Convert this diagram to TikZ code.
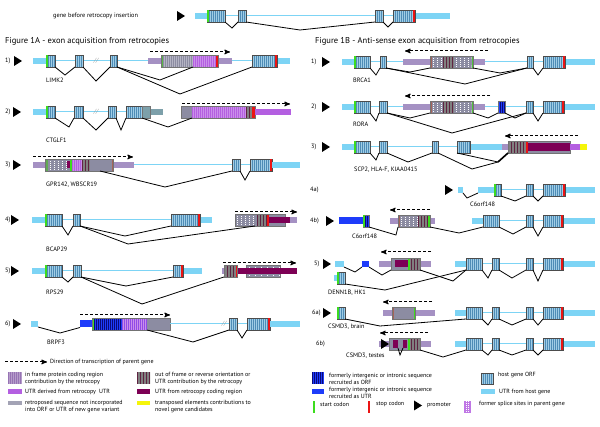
\documentclass[tikz,border=0pt]{standalone}
\usepackage{fontspec}
\setmainfont{PT Sans}
\usetikzlibrary{arrows,positioning}

\definecolor{hostc}{RGB}{78,140,182}
\definecolor{hstripe}{RGB}{160,205,230}
\definecolor{hutr}{RGB}{125,212,245}
\definecolor{lav}{RGB}{165,145,195}
\definecolor{rgray}{RGB}{140,140,162}
\definecolor{rpurp}{RGB}{180,95,225}
\definecolor{ifpurp}{RGB}{150,115,180}
\definecolor{dstripe}{RGB}{95,35,65}
\definecolor{mutr}{RGB}{125,0,85}
\definecolor{dblue}{RGB}{10,10,120}
\definecolor{bblue}{RGB}{30,60,250}
\definecolor{tyel}{RGB}{245,245,10}
\definecolor{tealg}{RGB}{125,160,170}
\definecolor{brn}{RGB}{165,100,90}
\definecolor{startc}{RGB}{60,220,30}
\definecolor{stopc}{RGB}{235,20,20}

% host gene pieces
\newcommand\hexo[4]{\node[hexon,minimum width={(#3-#2)*1pt}] (#1) at ({(#2+#3)/2},#4) {};}
\newcommand\hub[3]{\fill[hutr] (#1,#3-3) rectangle (#2,#3+3);}
\newcommand\intr[3]{\draw[intron] (#1,#3) -- (#2,#3);}
\newcommand\gst[1]{\fill[startc] ([xshift=0.4pt]#1.south west) rectangle ([xshift=1.8pt]#1.north west);}
\newcommand\rsp[1]{\fill[stopc] ([xshift=-1.8pt]#1.south east) rectangle ([xshift=-0.4pt]#1.north east);}
\newcommand\prom[2]{\fill (#1,#2-5) -- (#1+8,#2) -- (#1,#2+5) -- cycle;}
\newcommand\brk[3]{\node[text=gray!80,font=\fontsize{6}{6}\selectfont\itshape] (#1) at (#2,#3) {//};}
% retrocopy pieces
\newcommand\band[4]{\fill[#4] (#1,#3-3) rectangle (#2,#3+3);}
\newcommand\blk[4]{\fill[#4] (#1,#3-6) rectangle (#2,#3+6);}
\newcommand\strp[6]{\begin{scope}
  \clip (#1,#3-6) rectangle (#2,#3+6);
  \fill[#4] (#1,#3-6) rectangle (#2,#3+6);
  \foreach \k in {0,...,40} \draw[#5,line width=0.5pt] (#1+#6/2+\k*#6,#3-6) -- ++(0,12);
\end{scope}}
\newcommand\rbox[4]{\node[rbx,minimum width={(#3-#2)*1pt}] (#1) at ({(#2+#3)/2},#4) {};}

\begin{document}
\begin{tikzpicture}[x=1pt,y=-1pt,>=stealth',font=\fontsize{6.3}{7.3}\selectfont]
    \tikzstyle{hexon}=[draw=black!70,line width=0.4pt,fill=hostc,inner sep=0pt,outer sep=0pt,minimum height=12pt,
        path picture={\foreach \k in {0,...,20} \draw[hstripe,line width=0.35pt] ([xshift=\k*2pt+1.5pt]path picture bounding box.south west) -- ([xshift=\k*2pt+1.5pt]path picture bounding box.north west);}]
    \tikzstyle{rbx}=[draw=black!55,line width=0.4pt,inner sep=0pt,outer sep=0pt,minimum height=12pt]
    \tikzstyle{ubar}=[inner sep=0pt,outer sep=0pt,minimum height=6pt]
    \tikzstyle{splice}=[black,line width=0.8pt]
    \tikzstyle{intron}=[hutr,line width=1pt]
    \tikzstyle{dir}=[->,dash pattern=on 3pt off 2pt,line width=1pt]
    \tikzstyle{lbl}=[anchor=west,inner sep=0pt]
    \tikzstyle{ttl}=[anchor=west,inner sep=0pt,font=\fontsize{8.5}{10}\selectfont]

    \useasboundingbox (0,0) rectangle (600,427);

    % gene before insertion
    \node[lbl] (gtitle) at (53,16) {gene before retrocopy insertion};
    \prom{177}{16}
    \intr{207}{415}{16}
    \hub{195}{207}{16} \hub{415}{450}{16}
    \hexo{t1}{207}{225}{16} \hexo{t2}{238}{246}{16} \hexo{t3}{375}{383}{16} \hexo{t4}{393}{415}{16}
    \gst{t1} \rsp{t4}
    \draw[splice] (t1.south east) -- (232,28) -- (t2.south west);
    \draw[splice] (t2.south east) -- (300,30) -- (t3.south west);
    \draw[splice] (t3.south east) -- (388,27) -- (t4.south west);

    \node[ttl] (titA) at (5,41) {Figure 1A - exon acquisition from retrocopies};
    \node[ttl] (titB) at (315,41) {Figure 1B - Anti-sense exon acquisition from retrocopies};

    %%% Figure 1A
    % 1) LIMK2
    \node[lbl] (nA1) at (5,61) {1)};
    \prom{14}{61}
    \intr{46}{252}{61}
    \hub{33}{46}{61} \hub{277}{290}{61}
    \band{148}{232}{61}{lav}
    \strp{161}{193}{61}{rgray}{white!35!rgray}{2}
    \blk{161}{162.5}{61}{startc!60!gray}
    \strp{193}{216}{61}{rpurp}{white!30!rpurp}{2}
    \blk{216}{218}{61}{stopc}
    \rbox{r1}{161}{218}{61}
    \hexo{a1a}{46}{55}{61} \hexo{a1b}{75}{83}{61} \hexo{a1c}{110}{117}{61} \hexo{a1d}{252}{277}{61}
    \gst{a1a} \rsp{a1d}
    \brk{k1}{96}{61}
    \draw[dir] (150,52) -- (230,52);
    \coordinate (r1j) at (193,67);
    \draw[splice] (a1a.south east) -- (65,75) -- (a1b.south west);
    \draw[splice] (a1b.south east) -- (96,81) -- (a1c.south west);
    \draw[splice] (a1c.south east) -- (160,80) -- (r1j);
    \draw[splice] (a1c.south east) -- (180,94) -- (a1d.south west);
    \node[lbl] (gA1) at (46,80) {LIMK2};

    % 2) CTGLF1
    \node[lbl] (nA2) at (5,112) {2)};
    \prom{13}{112}
    \intr{46}{126}{112}
    \hub{33}{46}{112}
    \band{150}{163}{112}{tealg}
    \blk{181}{192}{112}{rgray}
    \strp{192}{246}{112}{rpurp}{white!30!rpurp}{2}
    \strp{246}{252}{112}{dstripe}{gray}{1.5}
    \blk{252}{255}{112}{stopc}
    \rbox{r2}{181}{255}{112}
    \band{255}{291}{112}{rpurp}
    \hexo{a2a}{46}{55}{112} \hexo{a2b}{74}{83}{112} \hexo{a2c}{108}{116}{112} \hexo{a2d}{126}{142}{112}
    \node[rbx,fill=tealg,minimum width=8pt] (a2e) at (146,112) {};
    \gst{a2a}
    \brk{k2}{96}{112}
    \draw[dir] (182,104) -- (290,104);
    \coordinate (r2j) at (192,118);
    \draw[splice] (a2a.south east) -- (69,127) -- (a2b.south west);
    \draw[splice] (a2b.south east) -- (96,130) -- (a2c.south west);
    \draw[splice] (a2c.south east) -- (121,130) -- (a2d.south west);
    \draw[splice] (a2e.south west) -- (168,127) -- (r2j);
    \node[lbl] (gA2) at (46,140) {CTGLF1};

    % 3) GPR142, WBSCR19
    \node[lbl] (nA3) at (5,165) {3)};
    \prom{13}{165}
    \intr{134}{250}{165}
    \band{33}{134}{165}{lav}
    \blk{45}{48}{165}{startc!45!gray}
    \strp{48}{67}{165}{rgray}{white,dash pattern=on 1pt off 1pt}{4}
    \blk{67}{70}{165}{rgray}
    \fill[mutr] (67,161) rectangle (70,168);
    \blk{70}{72}{165}{startc}
    \strp{72}{82}{165}{rpurp}{white!30!rpurp}{2}
    \strp{82}{90}{165}{dstripe}{gray}{1.5}
    \blk{90}{112}{165}{rgray}
    \blk{112}{113.5}{165}{brn}
    \rbox{r3}{45}{113.5}{165}
    \hexo{a3a}{232}{240}{165} \hexo{a3b}{250}{272}{165}
    \hub{272}{300}{165}
    \rsp{a3b}
    \draw[dir] (33,157) -- (133,157);
    \coordinate (r3j) at (100,171);
    \draw[splice] (r3j) -- (165,187) -- (a3a.south west);
    \draw[splice] (a3a.south east) -- (245,180) -- (a3b.south west);
    \node[lbl] (gA3) at (46,185) {GPR142, WBSCR19};

    % 4) BCAP29
    \node[lbl] (nA4) at (5,220) {4)};
    \prom{11}{220}
    \intr{45}{171}{220}
    \hub{32}{45}{220} \hub{200}{212}{220}
    \band{235}{297}{220}{lav}
    \strp{235}{257}{220}{rgray}{white,dash pattern=on 1pt off 1pt}{4}
    \strp{257}{267}{220}{dstripe}{gray}{1.5}
    \blk{267}{268.5}{220}{stopc}
    \blk{268.5}{285}{220}{rgray}
    \rbox{r4}{235}{285}{220}
    \band{268.5}{290}{220}{mutr}
    \hexo{a4a}{45}{62}{220} \hexo{a4b}{73}{80}{220} \hexo{a4c}{171}{200}{220}
    \gst{a4a} \rsp{a4c}
    \draw[dir] (235,212) -- (297,212);
    \coordinate (r4j) at (255,226);
    \draw[splice] (a4a.south east) -- (68,235) -- (a4b.south west);
    \draw[splice] (a4b.south east) -- (125,236) -- (a4c.south west);
    \draw[splice] (a4b.south east) -- (128,244) -- (r4j);
    \node[lbl] (gA4) at (46,249) {BCAP29};

    % 5) RPS29
    \node[lbl] (nA5) at (5,271) {5)};
    \prom{11}{271}
    \intr{45}{173}{271}
    \hub{32}{45}{271} \hub{183}{202}{271}
    \band{222}{297}{271}{lav}
    \strp{224}{236}{271}{dstripe}{gray}{1.5}
    \blk{236}{237.5}{271}{stopc}
    \rbox{r5}{224}{237.5}{271}
    \strp{246}{280}{271}{rgray}{white,dash pattern=on 1pt off 1pt}{6}
    \rbox{r5b}{246}{280}{271}
    \band{237.5}{297}{271}{mutr}
    \hexo{a5a}{45}{62}{271} \hexo{a5b}{73}{81}{271} \hexo{a5c}{173}{183}{271}
    \gst{a5a} \rsp{a5c}
    \draw[dir] (223,263) -- (296,263);
    \draw[splice] (a5a.south east) -- (68,282) -- (a5b.south west);
    \draw[splice] (a5b.south east) -- (126,286) -- (a5c.south west);
    \draw[splice] (a5b.south east) -- (142,304) -- (r5.south west);
    \node[lbl] (gA5) at (46,292) {RPS29};

    % 6) BRPF3
    \node[lbl] (nA6) at (5,324) {6)};
    \prom{13}{324}
    \node[ubar,fill=hutr,minimum width=7pt] (a6u) at (34.5,324) {};
    \node[ubar,fill=bblue,minimum width=12pt,minimum height=7pt] (a6v) at (86,324) {};
    \strp{92}{122}{324}{dblue}{bblue}{2}
    \blk{92}{93.5}{324}{startc}
    \strp{122}{147}{324}{rpurp!80!blue}{white!30!rpurp}{2}
    \blk{147}{170}{324}{rgray}
    \rbox{r6}{92}{170}{324}
    \intr{170}{247}{324}
    \hexo{a6a}{229}{237}{324} \hexo{a6b}{247}{270}{324}
    \hub{270}{300}{324}
    \rsp{a6b}
    \brk{k3}{224}{324}
    \draw[dir] (80,315) -- (170,315);
    \coordinate (r6j) at (147,330);
    \draw[splice] (a6u.south east) -- (60,333) -- (a6v.south west);
    \draw[splice] (r6j) -- (193,342) -- (a6a.south west);
    \draw[splice] (a6a.south east) -- (242,338) -- (a6b.south west);
    \node[lbl] (gA6) at (47,342) {BRPF3};

    %%% Figure 1B
    % 1) BRCA1
    \node[lbl] (nB1) at (311,62) {1)};
    \prom{322}{62}
    \intr{354}{543}{62}
    \hub{342}{354}{62} \hub{565}{595}{62}
    \band{403}{485}{62}{lav}
    \blk{430}{431.5}{62}{brn}
    \strp{431.5}{443}{62}{rgray}{white,dash pattern=on 1pt off 1pt}{4}
    \strp{443}{454}{62}{dstripe}{gray}{1.5}
    \strp{454}{471.5}{62}{rgray}{white,dash pattern=on 1pt off 1pt}{4}
    \blk{471.5}{473}{62}{startc!70!gray}
    \rbox{r7}{430}{473}{62}
    \hexo{b1a}{354}{370}{62} \hexo{b1b}{380}{386}{62} \hexo{b1c}{527}{533}{62} \hexo{b1d}{543}{565}{62}
    \gst{b1a} \rsp{b1d}
    \draw[dir] (488,51) -- (405,51);
    \draw[splice] (b1a.south east) -- (376,75) -- (b1b.south west);
    \draw[splice] (b1b.south east) -- (465,84) -- (b1c.south west);
    \draw[splice] (b1b.south east) -- (410,72) -- (r7.south west);
    \draw[splice] (r7.south east) -- (500,73) -- (b1c.south west);
    \draw[splice] (b1c.south east) -- (538,75) -- (b1d.south west);
    \node[lbl] (gB1) at (353,80) {BRCA1};

    % 2) RORA
    \node[lbl] (nB2) at (311,107) {2)};
    \prom{322}{107}
    \intr{354}{543}{107}
    \hub{342}{354}{107} \hub{564}{595}{107}
    \band{403}{485}{107}{lav}
    \blk{430}{431.5}{107}{brn}
    \strp{431.5}{443}{107}{rgray}{white,dash pattern=on 1pt off 1pt}{4}
    \strp{443}{454}{107}{dstripe}{gray}{1.5}
    \strp{454}{471.5}{107}{rgray}{white,dash pattern=on 1pt off 1pt}{4}
    \blk{471.5}{473}{107}{startc!70!gray}
    \rbox{r8}{430}{473}{107}
    \strp{498}{505}{107}{dblue}{bblue}{2}
    \rbox{b2x}{498}{505}{107}
    \hexo{b2a}{354}{370}{107} \hexo{b2b}{379}{387}{107} \hexo{b2c}{526}{533}{107} \hexo{b2d}{543}{564}{107}
    \gst{b2a} \rsp{b2d}
    \draw[dir] (490,96) -- (405,96);
    \draw[splice] (b2a.south east) -- (376,121) -- (b2b.south west);
    \draw[splice] (b2b.south east) -- (452,133) -- (b2c.south west);
    \draw[splice] (b2b.south east) -- (410,118) -- (r8.south west);
    \draw[splice] (r8.south east) -- (488,118) -- (b2x.south west);
    \draw[splice] (b2x.south east) -- (515,118) -- (b2c.south west);
    \draw[splice] (b2c.south east) -- (538,121) -- (b2d.south west);
    \node[lbl] (gB2) at (353,124) {RORA};

    % 3) SCP2, HLA-F, KIAA0415
    \node[lbl] (nB3) at (311,147) {3)};
    \prom{322}{147}
    \intr{354}{470}{147}
    \hub{342}{354}{147} \hub{470}{502}{147}
    \band{502}{508}{147}{lav}
    \strp{508}{526}{147}{dstripe}{gray}{1.5}
    \blk{526}{527.5}{147}{stopc}
    \blk{527.5}{570}{147}{rgray}
    \fill[mutr] (527.5,143) rectangle (570,151);
    \rbox{r9}{508}{570}{147}
    \band{570}{580}{147}{rpurp}
    \band{580}{587}{147}{tyel}
    \hexo{b3a}{354}{370}{147} \hexo{b3b}{379}{387}{147} \hexo{b3c}{432}{438}{147} \hexo{b3d}{457}{470}{147}
    \gst{b3a}
    \draw[dir] (578,136) -- (505,136);
    \coordinate (b3m) at (498,162);
    \draw[splice] (b3a.south east) -- (376,160) -- (b3b.south west);
    \draw[splice] (b3b.south east) -- (408,162) -- (b3c.south west);
    \draw[splice] (b3c.south east) -- (472,169) -- (b3m);
    \draw[splice] (b3d.south west) -- (b3m);
    \draw[splice,line width=1.6pt] (b3m) -- (r9.south west);
    \node[lbl] (gB3) at (354,170) {SCP2, HLA-F, KIAA0415};

    % 4a) C6orf148
    \node[lbl] (nB4a) at (310,190) {4a)};
    \prom{445}{190}
    \node[ubar,fill=hutr,minimum width=5pt] (b4u) at (460.5,190) {};
    \node[ubar,fill=hutr,minimum width=16pt] (b4w) at (486,190) {};
    \intr{494}{543}{190}
    \hub{565}{595}{190}
    \hexo{b4a}{494}{501}{190} \hexo{b4b}{526}{533}{190} \hexo{b4c}{543}{565}{190}
    \gst{b4a} \rsp{b4c}
    \draw[splice] (b4u.south east) -- (467,198) -- (b4w.south west);
    \draw[splice] (b4a.south east) -- (515,201) -- (b4b.south west);
    \draw[splice] (b4b.south east) -- (538,201) -- (b4c.south west);
    \node[lbl] (gB4a) at (470,204) {C6orf148};

    % 4b) C6orf148
    \node[lbl] (nB4b) at (310,221) {4b)};
    \prom{326}{221}
    \node[ubar,fill=bblue,minimum width=24pt,minimum height=7pt] (b4bl) at (351,221) {};
    \strp{363}{369}{221}{dblue}{bblue}{2}
    \rbox{b4x}{363}{369}{221}
    \gst{b4x}
    \band{390}{435}{221}{lav}
    \blk{398}{399.5}{221}{brn}
    \strp{399.5}{418}{221}{rgray}{white,dash pattern=on 1pt off 1pt}{4}
    \strp{418}{428}{221}{dstripe}{gray}{1.5}
    \blk{428}{430}{221}{startc}
    \rbox{r10}{398}{430}{221}
    \intr{483}{543}{221}
    \hub{472}{483}{221} \hub{563}{595}{221}
    \hexo{b4d}{483}{499}{221} \hexo{b4e}{526}{533}{221} \hexo{b4f}{543}{563}{221}
    \rsp{b4f}
    \draw[dir] (430,210) -- (390,210);
    \draw[splice] (b4x.south east) -- (396,235) -- (r10.south west);
    \draw[splice] (r10.south east) -- (459,233) -- (b4d.south west);
    \draw[splice] (b4d.south east) -- (513,234) -- (b4e.south west);
    \draw[splice] (b4e.south east) -- (538,236) -- (b4f.south west);
    \node[lbl] (gB4b) at (352,236) {C6orf148};

    % 5) DENN1B, HK1
    \node[lbl] (nB5) at (314,264) {5)};
    \prom{323}{264}
    \node[ubar,fill=hutr,minimum width=9pt] (b5u) at (339.5,264) {};
    \node[ubar,fill=bblue,minimum width=7pt] (b5y) at (365.5,264) {};
    \band{379}{431}{264}{lav}
    \blk{391}{409.5}{264}{rgray}
    \fill[mutr] (395,260.5) rectangle (408,267.5);
    \blk{408}{409.5}{264}{startc}
    \strp{409.5}{420}{264}{dstripe}{gray}{1.5}
    \rbox{r11}{391}{420}{264}
    \hub{334}{337}{278}
    \hexo{b5s}{337}{345}{278}
    \gst{b5s}
    \intr{466}{543}{264}
    \hub{455}{466}{264} \hub{563}{595}{264}
    \hexo{b5a}{466}{482}{264} \hexo{b5b}{492}{499}{264} \hexo{b5c}{526}{533}{264} \hexo{b5d}{543}{563}{264}
    \rsp{b5d}
    \draw[dir] (431,252) -- (381,252);
    \draw[splice] (b5u.south east) -- (355,272) -- (b5y.south west);
    \draw[splice] (b5y.south east) -- (382,275) -- (r11.south west);
    \draw[splice] (b5s.south east) -- (385,290) -- (b5a.south west);
    \draw[splice] (r11.south east) -- (453,281) -- (b5a.south west);
    \draw[splice] (b5a.south east) -- (488,278) -- (b5b.south west);
    \draw[splice] (b5b.south east) -- (512,278) -- (b5c.south west);
    \draw[splice] (b5c.south east) -- (538,281) -- (b5d.south west);
    \node[lbl] (gB5) at (328,293) {DENN1B, HK1};

    % 6a) CSMD3, brain
    \node[lbl] (nB6a) at (312,313) {6a)};
    \prom{323}{313}
    \hexo{b6s}{337}{345}{313}
    \gst{b6s}
    \band{383}{435}{313}{lav}
    \blk{392}{393.5}{313}{brn}
    \blk{393.5}{414}{313}{rgray}
    \blk{414}{415.5}{313}{startc}
    \rbox{r12}{392}{415.5}{313}
    \intr{466}{543}{313}
    \hub{455}{466}{313} \hub{563}{595}{313}
    \hexo{b6a}{466}{482}{313} \hexo{b6b}{492}{499}{313} \hexo{b6c}{526}{533}{313} \hexo{b6d}{543}{563}{313}
    \rsp{b6d}
    \draw[dir] (432,302) -- (383,302);
    \draw[splice] (b6s.south east) -- (380,326) -- (b6a.south west);
    \draw[splice] (b6a.south east) -- (488,325) -- (b6b.south west);
    \draw[splice] (b6b.south east) -- (512,325) -- (b6c.south west);
    \draw[splice] (b6c.south east) -- (538,325) -- (b6d.south west);
    \node[lbl] (gB6a) at (328,327) {CSMD3, brain};

    % 6b) CSMD3, testes
    \node[lbl] (nB6b) at (316,344) {6b)};
    \band{379}{431}{344}{lav}
    \blk{389}{408}{344}{rgray}
    \node[rbx,draw=none,fill=mutr,minimum width=5pt,minimum height=8pt] (m1) at (395.5,344) {};
    \node[rbx,draw=none,fill=mutr,minimum width=4pt,minimum height=8pt] (m2) at (405,344) {};
    \blk{408}{409.5}{344}{startc}
    \strp{409.5}{420}{344}{dstripe}{gray}{1.5}
    \rbox{r13}{389}{420}{344}
    \prom{381}{344}
    \intr{466}{543}{344}
    \hub{455}{466}{344} \hub{563}{595}{344}
    \hexo{b7a}{466}{482}{344} \hexo{b7b}{492}{499}{344} \hexo{b7c}{526}{533}{344} \hexo{b7d}{543}{563}{344}
    \rsp{b7d}
    \draw[dir] (428,333) -- (380,333);
    \draw[splice] (m1.south east) -- (400,355) -- (m2.south west);
    \draw[splice] (r13.south east) -- (443,357) -- (b7a.south west);
    \draw[splice] (b7a.south east) -- (488,355) -- (b7b.south west);
    \draw[splice] (b7b.south east) -- (512,355) -- (b7c.south west);
    \draw[splice] (b7c.south east) -- (538,355) -- (b7d.south west);
    \node[lbl] (gB6b) at (346,356) {CSMD3, testes};

    %%% legend
    \begin{scope}[font=\fontsize{6}{7}\selectfont]
    \draw[dir] (5,362) -- (47,362);
    \node[lbl] (lg0) at (50,362) {Direction of transcription of parent gene};
    \strp{8}{22}{378.5}{ifpurp}{white!30!ifpurp}{2}
    \node[lbl,align=left] (lg1) at (25,378.5) {in frame protein coding region\\contribution by the retrocopy};
    \fill[rpurp] (8,389.5) rectangle (22,394.5);
    \node[lbl] (lg2) at (25,392) {UTR derived from retrocopy\ \ UTR};
    \fill[rgray!80] (8,401) rectangle (22,405.5);
    \node[lbl,align=left] (lg3) at (25,406.5) {retroposed sequence not incorporated\\into ORF or UTR of new gene variant};
    \strp{137}{150}{378.5}{dstripe}{gray}{1.5}
    \node[lbl,align=left] (lg4) at (155,378.5) {out of frame or reverse orientation or\\UTR contribution by the retrocopy};
    \fill[mutr] (137,389.5) rectangle (150,394.5);
    \node[lbl] (lg5) at (155,392) {UTR from retrocopy coding region};
    \fill[tyel] (137,401) rectangle (150,405.5);
    \node[lbl,align=left] (lg6) at (155,406.5) {transposed elements contributions to\\novel gene candidates};

    \strp{312}{324}{378.5}{dblue}{bblue}{2}
    \node[lbl,align=left] (lg7) at (329,378.5) {formerly intergenic or intronic sequence\\recruited as ORF};
    \fill[bblue] (312,389.5) rectangle (324,394.5);
    \node[lbl,align=left] (lg8) at (329,392.5) {formerly intergenic or intronic sequence\\recruited as UTR};
    \fill[startc] (313,401) rectangle (315,413);
    \node[lbl] (lg9) at (320,404) {start codon};
    \fill[stopc] (368,401) rectangle (370,413);
    \node[lbl] (lg10) at (376,404) {stop codon};
    \prom{414}{405.5}
    \node[lbl] (lg11) at (427,405.5) {promoter};
    \fill[rpurp!85] (464,401) rectangle (471,413);
    \draw[white,line width=0.6pt,dash pattern=on 1pt off 1pt] (466.3,401) -- (466.3,413) (468.7,401) -- (468.7,413);
    \node[lbl] (lg12) at (479,404) {former splice sites in parent gene};
    \node[hexon,minimum width=12pt,minimum height=11pt] (lg13) at (487,378.5) {};
    \node[lbl] (lg14) at (498,375) {host gene ORF};
    \fill[hutr] (481,389.5) rectangle (495,394.5);
    \node[lbl] (lg15) at (499,392) {UTR from host gene};
    \end{scope}
\end{tikzpicture}
\end{document}
